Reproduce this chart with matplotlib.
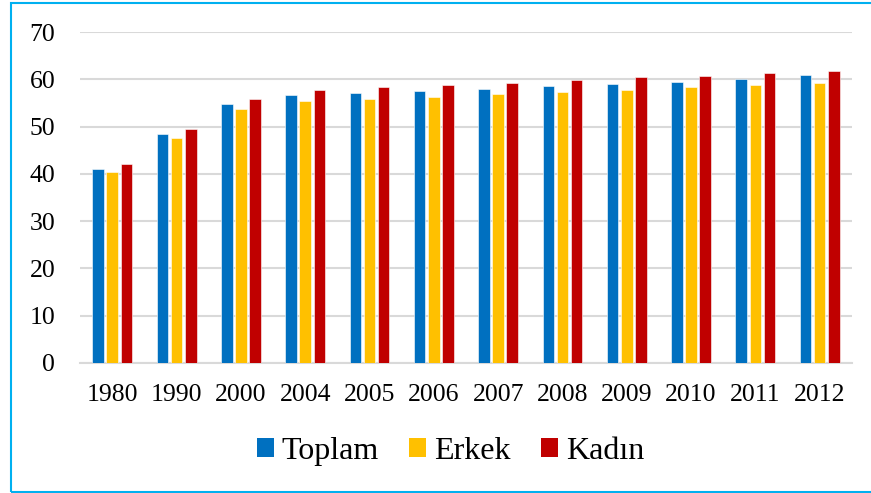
import matplotlib.pyplot as plt
import numpy as np
from matplotlib.patches import Patch, Rectangle

years = ['1980', '1990', '2000', '2004', '2005', '2006', '2007', '2008', '2009', '2010', '2011', '2012']
toplam = [41.1, 48.5, 54.7, 56.6, 57.0, 57.5, 58.0, 58.5, 59.1, 59.5, 60.0, 60.9]
erkek = [40.4, 47.5, 53.7, 55.4, 55.8, 56.3, 56.8, 57.3, 57.8, 58.3, 58.7, 59.3]
kadin = [42.0, 49.4, 55.9, 57.7, 58.3, 58.7, 59.3, 59.8, 60.4, 60.8, 61.3, 61.7]

names = ['Toplam', 'Erkek', 'Kadın']
colors = ['#0070C0', '#FFC000', '#C00000']

plt.rcParams['font.family'] = ['Liberation Serif', 'DejaVu Serif']

fig = plt.figure(figsize=(8.71, 4.93), dpi=100)
ax = fig.add_axes([0.092, 0.264, 0.886, 0.671])

x = np.arange(len(years))
w = 0.18
for i, (vals, c) in enumerate(zip([toplam, erkek, kadin], colors)):
    ax.bar(x + (i - 1) * 0.22, vals, w, color=c, edgecolor='white', linewidth=0.4, zorder=3)

ax.set_ylim(0, 70)
ax.set_xlim(-0.5, len(years) - 0.5)
ax.set_yticks(range(0, 71, 10))
ax.set_xticks(x)
ax.set_xticklabels(years)
ax.tick_params(axis='both', length=0, labelsize=18.5)
ax.tick_params(axis='y', pad=18)
ax.tick_params(axis='x', pad=15)
ax.grid(axis='y', color='#D9D9D9', linewidth=1.5, zorder=0)
for s in ['top', 'right', 'left']:
    ax.spines[s].set_visible(False)
ax.spines['bottom'].set_color('#D9D9D9')
ax.spines['bottom'].set_linewidth(1.5)

handles = [Patch(facecolor=c) for c in colors]
fig.legend(handles, names, loc='center', bbox_to_anchor=(0.517, 0.085), ncol=3,
           frameon=False, fontsize=23, handlelength=0.53, handleheight=0.53,
           handletextpad=0.25, columnspacing=0.95)

# cyan outer border
fig.patches.append(Rectangle((0.0126, 0.002), 1.2, 0.992, transform=fig.transFigure,
                             fill=False, edgecolor='#00B0F0', linewidth=1.5))

fig.savefig('out.png', dpi=100)
